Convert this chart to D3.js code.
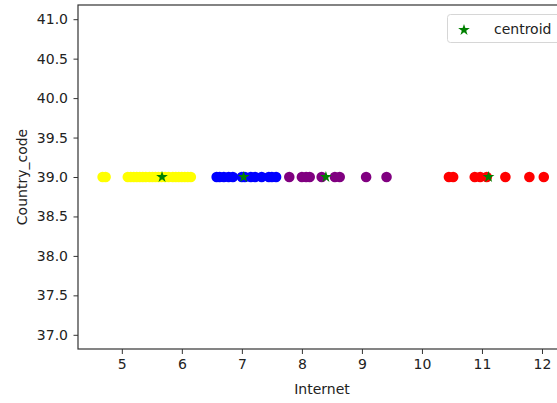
<!DOCTYPE html>
<html>
<head>
<meta charset="utf-8">
<script src="https://cdn.jsdelivr.net/npm/d3@7"></script>
<style>
  body { margin: 0; background: #fff; }
  svg { display: block; font-family: "DejaVu Sans", sans-serif; }
</style>
</head>
<body>
<div id="chart"></div>
<script>
// cluster values (Internet, all Country_code = 39)
const yellowX = [4.68, 4.73, 5.10, 5.15, 5.20, 5.25, 5.30, 5.35, 5.40, 5.46, 5.51, 5.56, 5.61,
  5.66, 5.72, 5.78, 5.85, 5.90, 5.95, 6.00, 6.05, 6.10, 6.15];
const blueX = [6.58, 6.63, 6.70, 6.78, 6.85, 7.00, 7.05, 7.15, 7.22, 7.33, 7.45, 7.50, 7.57];
const purpleX = [7.79, 8.00, 8.07, 8.13, 8.33, 8.55, 8.63, 9.07, 9.41];
const redX = [10.45, 10.52, 10.88, 10.97, 11.08, 11.39, 11.79, 12.03];
const centroidX = [5.67, 7.03, 8.40, 11.11];
const countryCode = 39;
const xTicks = [5, 6, 7, 8, 9, 10, 11, 12];
const yTicks = [37.0, 37.5, 38.0, 38.5, 39.0, 39.5, 40.0, 40.5, 41.0];

const width = 557, height = 403;
const margin = {left: 78, top: 5, right: 572, bottom: 349};

const svg = d3.select("#chart").append("svg")
  .attr("width", width)
  .attr("height", height);

const x = d3.scaleLinear().domain([4.27, 12.5]).range([margin.left, margin.right]);
const y = d3.scaleLinear().domain([36.82, 41.18]).range([margin.bottom, margin.top]);

// clusters
const groups = [
  {vals: yellowX, color: "#ffff00"},
  {vals: blueX, color: "#0000ff"},
  {vals: purpleX, color: "#800080"},
  {vals: redX, color: "#ff0000"}
];
groups.forEach(function(g) {
  svg.append("g").selectAll("circle")
    .data(g.vals)
    .join("circle")
    .attr("cx", d => x(d))
    .attr("cy", y(countryCode))
    .attr("r", 5.3)
    .attr("fill", g.color);
});

// centroids
const star = d3.symbol().type(d3.symbolStar).size(42);
svg.append("g").selectAll("path")
  .data(centroidX)
  .join("path")
  .attr("d", star)
  .attr("transform", d => "translate(" + x(d) + "," + y(countryCode) + ")")
  .attr("fill", "#008000");

// axes
const xAxis = svg.append("g")
  .attr("transform", "translate(0," + margin.bottom + ")")
  .call(d3.axisBottom(x).tickValues(xTicks).tickSize(5).tickPadding(5).tickFormat(d3.format("d")));
const yAxis = svg.append("g")
  .attr("transform", "translate(" + margin.left + ",0)")
  .call(d3.axisLeft(y).tickValues(yTicks).tickSize(4.5).tickPadding(5.5).tickFormat(d3.format(".1f")));
[xAxis, yAxis].forEach(function(a) {
  a.select(".domain").remove();
  a.selectAll("line").attr("stroke", "#333");
  a.selectAll("text").attr("font-size", 14).attr("fill", "#222")
    .attr("font-family", "DejaVu Sans, sans-serif");
});

// frame
svg.append("rect")
  .attr("x", margin.left)
  .attr("y", margin.top)
  .attr("width", margin.right - margin.left)
  .attr("height", margin.bottom - margin.top)
  .attr("fill", "none")
  .attr("stroke", "#333")
  .attr("stroke-width", 1.2);

// labels
svg.append("text")
  .attr("x", (margin.left + margin.right) / 2 - 3)
  .attr("y", 394)
  .attr("text-anchor", "middle")
  .attr("font-size", 14)
  .attr("fill", "#222")
  .text("Internet");

svg.append("text")
  .attr("transform", "translate(27," + (margin.top + margin.bottom) / 2 + ") rotate(-90)")
  .attr("text-anchor", "middle")
  .attr("font-size", 14)
  .attr("fill", "#222")
  .text("Country_code");

// legend
const legend = svg.append("g");
legend.append("rect")
  .attr("x", 447.5)
  .attr("y", 14.5)
  .attr("width", 118)
  .attr("height", 28)
  .attr("rx", 3)
  .attr("fill", "#fff")
  .attr("fill-opacity", 0.8)
  .attr("stroke", "#d6d6d6");
legend.append("path")
  .attr("d", star)
  .attr("transform", "translate(464,30)")
  .attr("fill", "#008000");
legend.append("text")
  .attr("x", 494)
  .attr("y", 34)
  .attr("font-size", 14)
  .attr("fill", "#222")
  .text("centroid");
</script>
</body>
</html>
